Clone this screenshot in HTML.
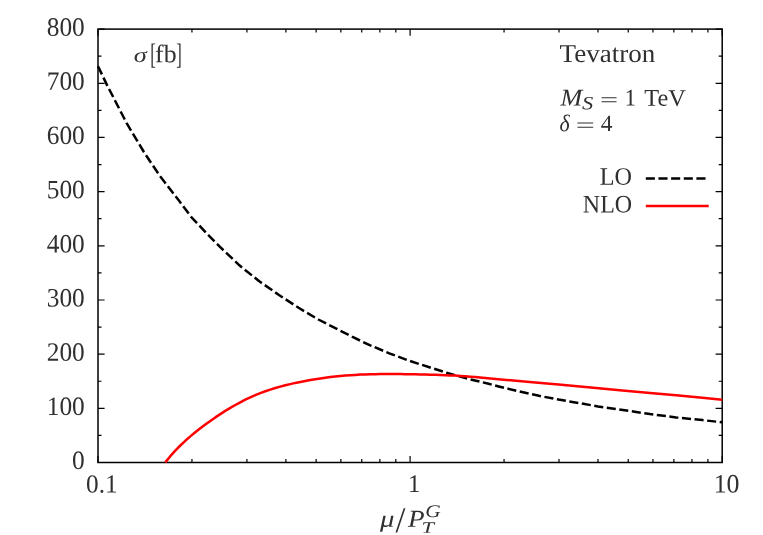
<!DOCTYPE html>
<html><head><meta charset="utf-8"><title>plot</title>
<style>
html,body{margin:0;padding:0;background:#fff;}
body{width:763px;height:535px;overflow:hidden;}
svg{display:block;will-change:transform;}
text{font-family:"Liberation Serif",serif;fill:#303030;text-rendering:geometricPrecision;}
</style></head><body>
<svg width="763" height="535" viewBox="0 0 763 535">
<rect width="763" height="535" fill="#fff"/>
<rect x="98.0" y="29.1" width="624.2" height="433.4" fill="none" stroke="#000" stroke-width="1.5"/>
<path d="M98.0,462.50h6.6M722.2,462.50h-6.6M98.0,435.41h3.5M722.2,435.41h-3.5M98.0,408.32h6.6M722.2,408.32h-6.6M98.0,381.24h3.5M722.2,381.24h-3.5M98.0,354.15h6.6M722.2,354.15h-6.6M98.0,327.06h3.5M722.2,327.06h-3.5M98.0,299.98h6.6M722.2,299.98h-6.6M98.0,272.89h3.5M722.2,272.89h-3.5M98.0,245.80h6.6M722.2,245.80h-6.6M98.0,218.71h3.5M722.2,218.71h-3.5M98.0,191.62h6.6M722.2,191.62h-6.6M98.0,164.54h3.5M722.2,164.54h-3.5M98.0,137.45h6.6M722.2,137.45h-6.6M98.0,110.36h3.5M722.2,110.36h-3.5M98.0,83.28h6.6M722.2,83.28h-6.6M98.0,56.19h3.5M722.2,56.19h-3.5M98.0,29.10h6.6M722.2,29.10h-6.6M98.00,462.5v-6.6M98.00,29.1v6.6M191.95,462.5v-3.4M191.95,29.1v3.4M246.91,462.5v-3.4M246.91,29.1v3.4M285.90,462.5v-3.4M285.90,29.1v3.4M316.15,462.5v-3.4M316.15,29.1v3.4M340.86,462.5v-3.4M340.86,29.1v3.4M361.76,462.5v-3.4M361.76,29.1v3.4M379.85,462.5v-3.4M379.85,29.1v3.4M395.82,462.5v-3.4M395.82,29.1v3.4M410.10,462.5v-6.6M410.10,29.1v6.6M504.05,462.5v-3.4M504.05,29.1v3.4M559.01,462.5v-3.4M559.01,29.1v3.4M598.00,462.5v-3.4M598.00,29.1v3.4M628.25,462.5v-3.4M628.25,29.1v3.4M652.96,462.5v-3.4M652.96,29.1v3.4M673.86,462.5v-3.4M673.86,29.1v3.4M691.95,462.5v-3.4M691.95,29.1v3.4M707.92,462.5v-3.4M707.92,29.1v3.4M722.20,462.5v-6.6M722.20,29.1v6.6" stroke="#000" stroke-width="1.2" fill="none"/>
<path d="M98.0,66.2 L106.8,84.6 L126.5,122.9 L143.9,152.0 L150.0,161.2 L159.7,175.6 L179.3,201.1 L191.1,216.8 L206.8,233.5 L220.0,246.9 L239.7,265.6 L259.3,281.3 L279.0,295.0 L298.6,307.8 L318.3,319.5 L337.9,329.5 L352.0,336.7 L369.7,345.1 L389.3,353.3 L409.0,360.7 L428.6,367.0 L448.3,373.3 L468.0,378.8 L487.6,383.5 L499.7,386.7 L519.3,391.5 L539.0,395.8 L558.6,399.6 L578.3,402.9 L598.0,406.4 L617.6,409.2 L639.3,412.5 L650.0,414.1 L676.2,417.4 L702.4,420.1 L722.2,422.3" stroke="#000" stroke-width="2.5" fill="none" stroke-dasharray="9.1 3.55" stroke-linejoin="round"/>
<path d="M165.3,462.4 L170.3,456.2 L175.3,450.6 L180.3,445.5 L185.3,440.8 L190.3,436.4 L195.3,432.2 L200.3,428.2 L205.3,424.5 L210.3,420.9 L215.3,417.4 L220.3,414.1 L225.3,410.9 L230.3,407.9 L235.3,405.0 L240.3,402.3 L245.3,399.7 L250.3,397.4 L255.3,395.1 L260.3,393.1 L265.3,391.3 L270.3,389.6 L275.3,388.0 L280.3,386.6 L285.3,385.3 L290.3,384.1 L295.3,382.9 L300.3,381.9 L305.3,380.9 L310.3,380.0 L315.3,379.2 L320.3,378.4 L325.3,377.7 L330.3,377.0 L335.3,376.4 L340.3,375.9 L345.3,375.5 L350.3,375.2 L355.3,374.9 L360.3,374.6 L365.3,374.4 L370.3,374.3 L375.3,374.2 L380.3,374.1 L385.3,374.1 L390.3,374.1 L395.3,374.1 L400.3,374.1 L405.3,374.2 L410.3,374.3 L415.3,374.3 L420.3,374.4 L425.3,374.5 L430.3,374.7 L435.3,374.8 L440.3,375.0 L445.3,375.2 L450.3,375.4 L455.3,375.6 L460.3,375.9 L465.3,376.3 L470.3,376.7 L475.3,377.1 L480.0,377.5 L506.2,379.9 L532.4,382.3 L558.6,384.6 L580.0,386.5 L596.2,388.1 L622.4,390.4 L650.0,393.0 L676.2,395.3 L702.4,397.7 L722.2,399.7" stroke="#ff0000" stroke-width="2.5" fill="none" stroke-linejoin="round"/>
<path d="M645.8,178.4H705.5" stroke="#000" stroke-width="2.5" stroke-dasharray="9.1 3.55" fill="none"/>
<path d="M645.8,205.9H708.7" stroke="#ff0000" stroke-width="2.5" fill="none"/>
<text transform="matrix(1.0579,0.0005,0,1.1057,84.817,469.095)" font-size="24" text-anchor="end">0</text>
<text transform="matrix(1.0579,0.0005,0,1.1057,84.817,414.920)" font-size="24" text-anchor="end">100</text>
<text transform="matrix(1.0579,0.0005,0,1.1057,84.817,360.745)" font-size="24" text-anchor="end">200</text>
<text transform="matrix(1.0579,0.0005,0,1.1057,84.817,306.570)" font-size="24" text-anchor="end">300</text>
<text transform="matrix(1.0579,0.0005,0,1.1057,84.817,252.395)" font-size="24" text-anchor="end">400</text>
<text transform="matrix(1.0579,0.0005,0,1.1057,84.817,198.220)" font-size="24" text-anchor="end">500</text>
<text transform="matrix(1.0579,0.0005,0,1.1057,84.817,144.045)" font-size="24" text-anchor="end">600</text>
<text transform="matrix(1.0579,0.0005,0,1.1057,84.817,89.870)" font-size="24" text-anchor="end">700</text>
<text transform="matrix(1.0579,0.0005,0,1.1057,84.817,35.695)" font-size="24" text-anchor="end">800</text>
<text transform="matrix(1.054,0.0005,0,1.0854,85.983,492.401)" font-size="24">0.1</text>
<text transform="matrix(1.0314,0.0005,0,1.0544,407.904,491.978)" font-size="24">1</text>
<text transform="matrix(1.0779,0.0005,0,1.1066,713.641,492.55)" font-size="24">10</text>
<text transform="matrix(1.0972,0.0005,0,0.8955,133.652,62.055)" font-size="24" font-style="italic">σ</text>
<text transform="matrix(1.0746,0.0005,0,1.0461,155.114,62.2)" font-size="24">fb</text>
<text transform="matrix(1.1284,0.0005,0,1.0739,559.55,61.9)" font-size="24">Tevatron</text>
<text transform="matrix(1.0897,0.0005,0,0.9969,560.535,105.548)" font-size="24" font-style="italic">M</text>
<text transform="matrix(0.9379,0.0005,0,0.7761,582.029,109.193)" font-size="24" font-style="italic">S</text>
<text transform="matrix(0.9697,0.0005,0,0.9915,624.584,105.54)" font-size="24">1</text>
<text transform="matrix(1.0128,0.0005,0,0.998,644.269,105.867)" font-size="24">TeV</text>
<text transform="matrix(0.9098,0.0005,0,1.0034,559.378,131.331)" font-size="24" font-style="italic">δ</text>
<text transform="matrix(0.9768,0.0005,0,0.9734,600.67,130.882)" font-size="24">4</text>
<text transform="matrix(1.0099,0.0005,0,1.0461,599.765,184.864)" font-size="24">LO</text>
<text transform="matrix(0.9998,0.0005,0,1.0559,582.829,212.375)" font-size="24">NLO</text>
<text transform="matrix(1.1986,0.0005,0,0.9968,380.075,526.832)" font-size="24" font-style="italic">μ</text>
<text transform="matrix(1.1346,0.0005,0,1.0122,408.116,526.767)" font-size="24" font-style="italic">P</text>
<text transform="matrix(0.8921,0.0005,0,0.7429,425.144,516.999)" font-size="24" font-style="italic">G</text>
<text transform="matrix(0.9385,0.0005,0,0.6616,421.616,532.772)" font-size="24" font-style="italic">T</text>
<text transform="matrix(0.7005,0.0005,0,1.2221,150.251,63.736)" font-size="24">[</text>
<text transform="matrix(0.6965,0.0005,0,1.2221,176.329,63.736)" font-size="24">]</text>
<text transform="matrix(1.3375,0.0005,0,0.8324,600.078,106.181)" font-size="24">=</text>
<text transform="matrix(1.4155,0.0005,0,0.8617,575.702,132.053)" font-size="24">=</text>
<text transform="matrix(1.4827,0.0005,0,1.5209,395.491,532.236)" font-size="24">/</text>
</svg>
</body></html>
